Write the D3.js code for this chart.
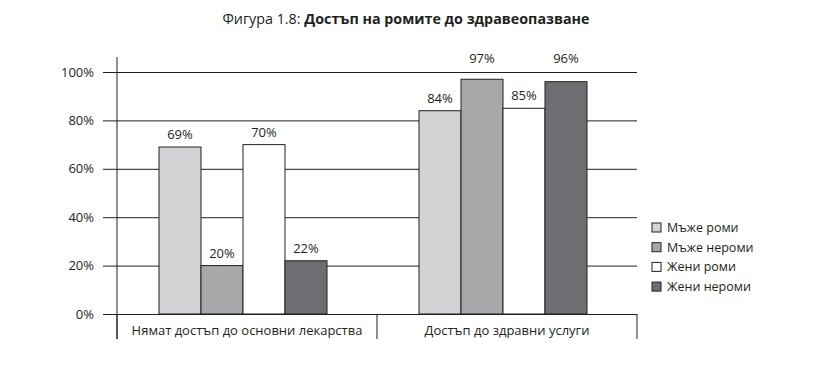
<!DOCTYPE html>
<html>
<head>
<meta charset="utf-8">
<script src="https://cdn.jsdelivr.net/npm/d3@7"></script>
<style>
  body { margin: 0; background: #fff; }
  svg text { font-family: "Open Sans", sans-serif; fill: #231f20; }
</style>
</head>
<body>
<svg id="chart" width="825" height="375"></svg>
<script>
// data
const categories = ["Нямат достъп до основни лекарства", "Достъп до здравни услуги"];
const series = ["Мъже роми", "Мъже нероми", "Жени роми", "Жени нероми"];
const values = [
  [69, 20, 70, 22],
  [84, 97, 85, 96]
];
const yTicks = [0, 20, 40, 60, 80, 100];
const colors = ["#d1d2d4", "#a7a8aa", "#ffffff", "#6d6e71"];

let margin = {top: 72, right: 188, bottom: 61, left: 117}
let width = 825, height = 375
let gridLen = width - margin.right - margin.left + 14

let svg = d3.select("#chart")

let scales = {
  x: d3.scaleBand()
    .domain(categories)
    .range([margin.left, width - margin.right])
    .paddingInner(0),
  y: d3.scaleLinear()
    .domain([0, 100])
    .range([height - margin.bottom, margin.top])
}
let barW = 42
let x1 = d3.scaleBand()
  .domain(series)
  .range([-barW * 2, barW * 2])

// title
let title = svg.append("text")
  .attr("x", 406)
  .attr("y", 24)
  .attr("text-anchor", "middle")
  .style("font-size", "14.3px")
title.append("tspan").text("Фигура 1.8: ")
title.append("tspan").style("font-weight", "bold").text("Достъп на ромите до здравеопазване")

// gridlines + y axis (drawn from the right edge leftwards)
let y_axis = d3.axisLeft(scales.y)
  .tickValues(yTicks)
  .tickFormat(d => d + "%")
  .tickSize(gridLen)
  .tickPadding(9)
let gy = svg.append("g")
  .attr("transform", `translate(${width - margin.right}, 0)`)
  .call(y_axis)
gy.select(".domain").remove()
gy.selectAll(".tick line").attr("stroke", "#231f20")
gy.selectAll(".tick text")
  .style("font-size", "13px")
  .style("font-family", "Open Sans, sans-serif")
  .attr("fill", "#231f20")

// vertical axis line
svg.append("line")
  .attr("x1", margin.left).attr("x2", margin.left)
  .attr("y1", 57).attr("y2", height - margin.bottom + 25)
  .attr("stroke", "#231f20")

// bars
let groups = svg.append("g").selectAll("g")
  .data(categories).enter()
  .append("g")
  .attr("transform", d => `translate(${scales.x(d) + scales.x.bandwidth() / 2 - 4}, 0)`)

groups.selectAll("rect")
  .data((d, i) => values[i].map((v, j) => ({s: series[j], v: v, j: j})))
  .enter().append("rect")
  .attr("x", d => x1(d.s))
  .attr("width", x1.bandwidth())
  .attr("y", d => scales.y(d.v))
  .attr("height", d => scales.y(0) - scales.y(d.v))
  .attr("fill", d => colors[d.j])
  .attr("stroke", "#231f20")
  .attr("stroke-width", 1)

// value labels; ones that would hit the 100% line go above it
groups.selectAll("text")
  .data((d, i) => values[i].map((v, j) => ({s: series[j], v: v, j: j})))
  .enter().append("text")
  .attr("x", d => x1(d.s) + x1.bandwidth() / 2)
  .attr("y", d => d.v > 90 ? scales.y(100) - 9 : scales.y(d.v) - 8)
  .attr("text-anchor", "middle")
  .style("font-size", "13px")
  .text(d => d.v + "%")

// category axis
let x_axis = d3.axisBottom(scales.x).tickSize(0).tickPadding(12)
let gx = svg.append("g")
  .attr("transform", `translate(0, ${height - margin.bottom})`)
  .call(x_axis)
gx.select(".domain").remove()
gx.selectAll(".tick text")
  .style("font-size", "13px")
  .style("font-family", "Open Sans, sans-serif")
  .attr("fill", "#231f20")
gx.selectAll(".sep")
  .data(categories.concat(["end"])).enter()
  .append("line")
  .attr("x1", (d, i) => i < categories.length ? scales.x(d) : width - margin.right)
  .attr("x2", (d, i) => i < categories.length ? scales.x(d) : width - margin.right)
  .attr("y1", 0).attr("y2", 25)
  .attr("stroke", "#231f20")

// legend
let legend = svg.append("g")
  .attr("transform", "translate(652, 223)")
let item = legend.selectAll("g")
  .data(series).enter()
  .append("g")
  .attr("transform", (d, i) => `translate(0, ${i * 19.7})`)
item.append("rect")
  .attr("width", 9).attr("height", 9)
  .attr("fill", (d, i) => colors[i])
  .attr("stroke", "#231f20")
item.append("text")
  .attr("x", 15).attr("y", 9)
  .style("font-size", "12.5px")
  .text(d => d)
</script>
</body>
</html>
